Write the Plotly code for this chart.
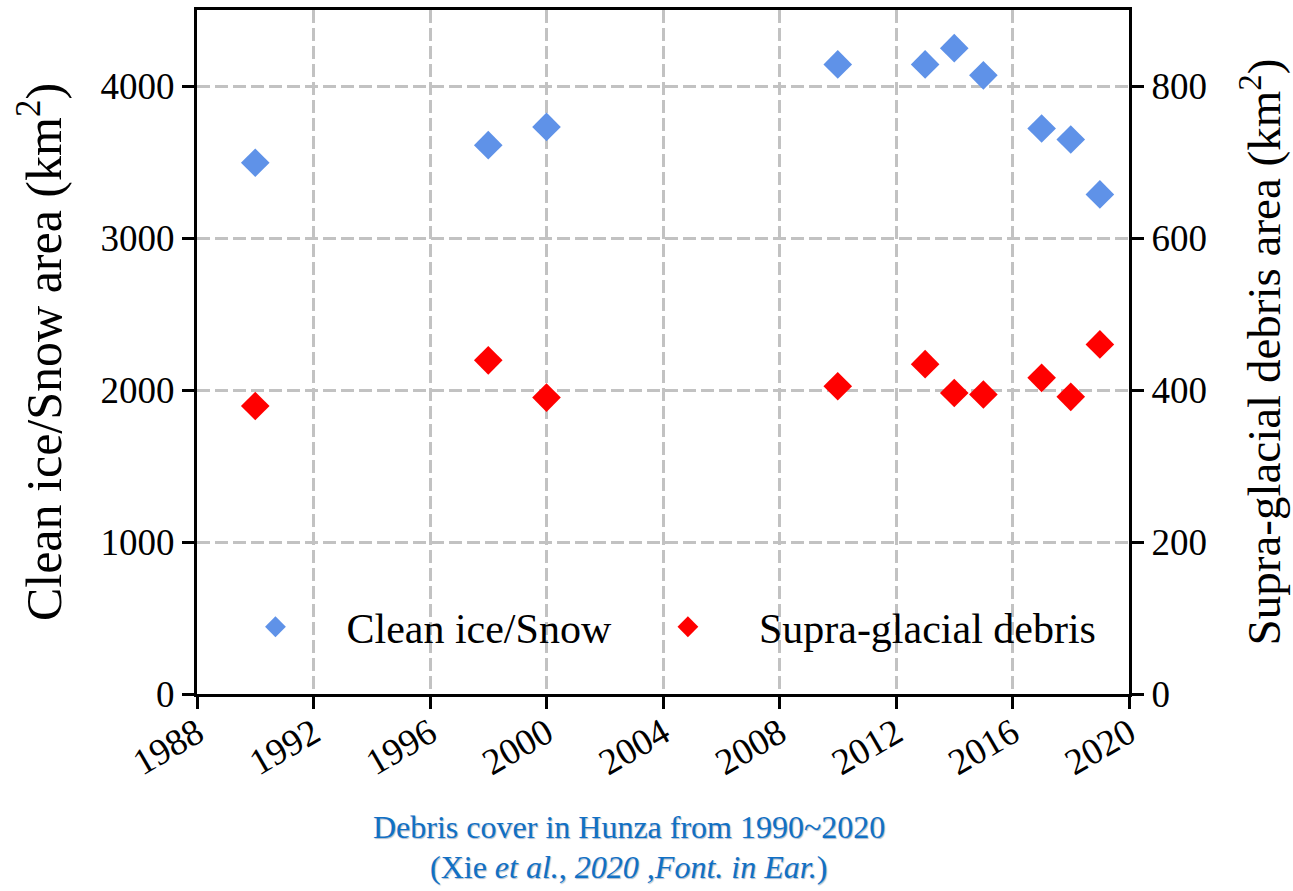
import plotly.graph_objects as go

years = [1990, 1998, 2000, 2010, 2013, 2014, 2015, 2017, 2018, 2019]
clean_ice = [3495, 3611, 3731, 4142, 4142, 4249, 4070, 3720, 3648, 3287]
debris = [379, 439, 390, 405, 434, 396, 394, 416, 391, 460]

left_ticks = [0, 1000, 2000, 3000, 4000]
right_ticks = [0, 200, 400, 600, 800]
x_ticks = [1988, 1992, 1996, 2000, 2004, 2008, 2012, 2016, 2020]

FONT = "Liberation Serif"

fig = go.Figure()
fig.add_trace(go.Scatter(
    x=years, y=clean_ice, mode="markers", name="Clean ice/Snow",
    marker=dict(symbol="diamond", size=22, color="#5F92E8", line=dict(width=0)),
    yaxis="y"))
fig.add_trace(go.Scatter(
    x=years, y=debris, mode="markers", name="Supra-glacial debris",
    marker=dict(symbol="diamond", size=22, color="#FF0000", line=dict(width=0)),
    yaxis="y2"))

axis_common = dict(
    showline=True, linecolor="black", linewidth=3,
    ticks="outside", ticklen=12, tickwidth=2.5, tickcolor="black",
    tickfont=dict(family=FONT, size=37, color="black"),
    zeroline=False,
)

fig.update_layout(
    width=1293, height=891,
    margin=dict(l=197, r=164, t=7, b=197),
    paper_bgcolor="white", plot_bgcolor="white",
    font=dict(family=FONT, color="black"),
    showlegend=True,
    legend=dict(
        orientation="h", x=0.008, y=0.098, xanchor="left", yanchor="middle",
        bgcolor="rgba(0,0,0,0)", borderwidth=0,
        font=dict(family=FONT, size=42, color="black"),
        itemwidth=132,
    ),
    xaxis=dict(
        range=[1988, 2020], tickvals=x_ticks, ticktext=[str(v) for v in x_ticks],
        tickangle=-30, mirror=True, ticklabelstandoff=-12,
        showgrid=True, gridcolor="#C2C2C2", griddash="13px,5px", gridwidth=2.5,
        **axis_common,
    ),
    yaxis=dict(
        range=[0, 4500], tickvals=left_ticks, ticktext=[str(v) for v in left_ticks],
        showgrid=True, gridcolor="#C2C2C2", griddash="13px,5px", gridwidth=2.5,
        title=dict(text="Clean ice/Snow area (km<sup>2</sup>)",
                   font=dict(family=FONT, size=50, color="black"), standoff=24),
        **axis_common,
    ),
    yaxis2=dict(
        range=[0, 900], tickvals=right_ticks, ticktext=[str(v) for v in right_ticks],
        overlaying="y", side="right", showgrid=False,
        title=dict(text="Supra-glacial debris area (km<sup>2</sup>)",
                   font=dict(family=FONT, size=47, color="black"), standoff=42),
        **axis_common,
    ),
)

fig.add_annotation(
    text="Debris cover in Hunza from 1990~2020",
    xref="paper", yref="paper", x=0.463, y=-0.195, xanchor="center", yanchor="middle",
    showarrow=False,
    font=dict(family=FONT, size=32, color="#1170C4", shadow="1px 1px 1px #A9B9CC"),
)
fig.add_annotation(
    text="(Xie <i>et al.</i>, <i>2020 ,Font. in Ear.</i>)",
    xref="paper", yref="paper", x=0.463, y=-0.253, xanchor="center", yanchor="middle",
    showarrow=False,
    font=dict(family=FONT, size=32, color="#1170C4", shadow="1px 1px 1px #A9B9CC"),
)

fig.write_html("out.html")
